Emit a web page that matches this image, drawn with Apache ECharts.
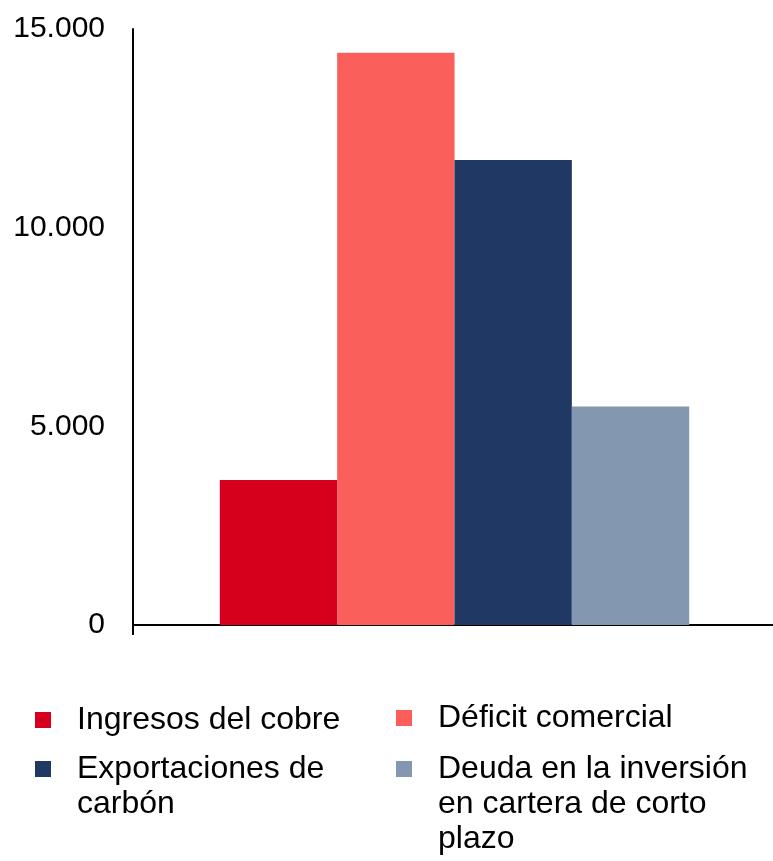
<!DOCTYPE html>
<html lang="es">
<head>
    <meta charset="utf-8">
    <title>Ingresos y déficit</title>
    <script src="https://cdn.jsdelivr.net/npm/echarts@6/dist/echarts.min.js"></script>
    <style>
        html, body {margin: 0; padding: 0; background: #ffffff; overflow: hidden;}
        /* un poco más ancho que la ventana: el eje X llega hasta el borde */
        #chart {width: 776px; height: 861px;}
    </style>
</head>
<body>
<div id="chart"></div>
<script>
    // datos
    var categories = [''];
    var seriesNames = ['Ingresos del cobre', 'Déficit comercial', 'Exportaciones de carbón', 'Deuda en la inversión en cartera de corto plazo'];
    var legendLines = [
        ['Ingresos del cobre'],
        ['Déficit comercial'],
        ['Exportaciones de', 'carbón'],
        ['Deuda en la inversión', 'en cartera de corto', 'plazo']
    ];
    var values = [3650, 14400, 11700, 5500];
    var colors = ['#d6001c', '#fa5f5c', '#203864', '#8497b0'];
    var yTicks = [0, 5000, 10000, 15000];

    var FONT = 'Liberation Sans, Arial, sans-serif';
    var LEG_FONT = 32;
    var LINE_H = 35;
    var ICON = 16;
    var TEXT_PAD = 21;

    // posición del icono de cada elemento de la leyenda
    var legendPos = [
        {left: 35, top: 712},
        {left: 396, top: 710},
        {left: 35, top: 761},
        {left: 396, top: 761}
    ];

    function fmtThousands(v) {
        return String(v).replace(/\B(?=(\d{3})+(?!\d))/g, '.');
    }

    var series = seriesNames.map(function (name, i) {
        return {
            name: name,
            type: 'bar',
            data: [values[i]],
            barGap: 0,
            barCategoryGap: '27%',
            itemStyle: {color: colors[i]}
        };
    });

    // la leyenda muestra la primera línea; el resto va como texto aparte
    var legends = seriesNames.map(function (name, i) {
        return {
            data: [name],
            left: legendPos[i].left,
            top: legendPos[i].top + ICON / 2 - LINE_H / 2,
            padding: 0,
            itemWidth: ICON,
            itemHeight: ICON,
            icon: 'rect',
            selectedMode: false,
            formatter: function () {
                return legendLines[i][0];
            },
            textStyle: {
                fontFamily: FONT,
                fontSize: LEG_FONT,
                color: '#000000',
                lineHeight: LINE_H,
                padding: [0, 0, 0, TEXT_PAD]
            }
        };
    });

    var extraLines = [];
    legendLines.forEach(function (lines, i) {
        for (var k = 1; k < lines.length; k++) {
            extraLines.push({
                type: 'text',
                x: legendPos[i].left + ICON + 5 + TEXT_PAD,
                y: legendPos[i].top + ICON / 2 + k * LINE_H,
                style: {
                    text: lines[k],
                    fontFamily: FONT,
                    fontSize: LEG_FONT,
                    fill: '#000000',
                    verticalAlign: 'middle',
                    align: 'left'
                }
            });
        }
    });

    var chart = echarts.init(document.getElementById('chart'));
    chart.setOption({
        animation: false,
        backgroundColor: '#ffffff',
        grid: {left: 133, right: 0, top: 29, bottom: 236, containLabel: false},
        legend: legends,
        graphic: extraLines,
        xAxis: {
            type: 'category',
            data: categories,
            axisLine: {show: true, lineStyle: {color: '#000000', width: 2}},
            axisTick: {show: true, length: 10, lineStyle: {color: '#000000', width: 2}},
            axisLabel: {show: false}
        },
        yAxis: {
            type: 'value',
            min: yTicks[0],
            max: yTicks[yTicks.length - 1],
            interval: yTicks[1] - yTicks[0],
            axisLine: {show: true, lineStyle: {color: '#000000', width: 2}},
            axisTick: {show: false},
            splitLine: {show: false},
            axisLabel: {
                fontFamily: FONT,
                fontSize: 30,
                color: '#000000',
                margin: 28,
                formatter: function (v) {
                    return fmtThousands(v);
                }
            }
        },
        series: series
    });
</script>
</body>
</html>
